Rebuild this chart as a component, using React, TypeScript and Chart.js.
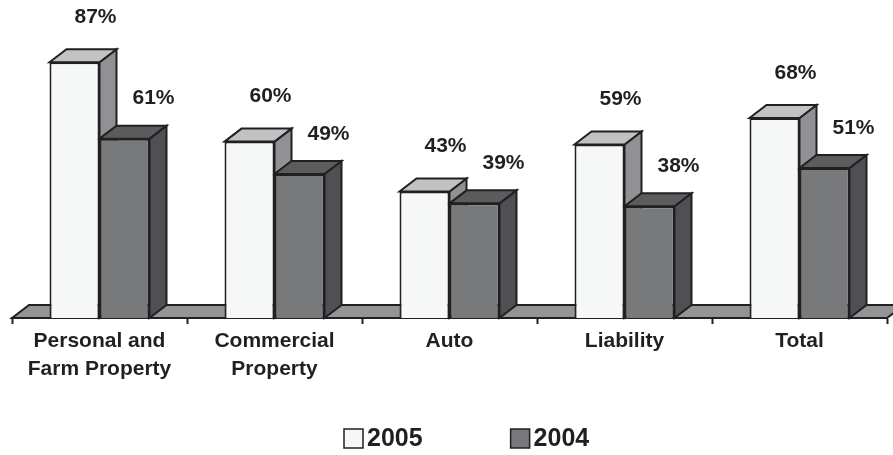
import React, { useEffect, useRef } from "react";
import { Chart, registerables } from "chart.js";

Chart.register(...registerables);

const categories: string[][] = [
  ["Personal and", "Farm Property"],
  ["Commercial", "Property"],
  ["Auto"],
  ["Liability"],
  ["Total"],
];
const seriesNames = ["2005", "2004"];
const values2005 = [87, 60, 43, 59, 68];
const values2004 = [61, 49, 39, 38, 51];

const OUTLINE = "#231f20";
const TEXT = "#231f20";
const FONT = '"Liberation Sans", Arial, Helvetica, sans-serif';

// front / top / side shades per series
const faces = [
  { front: "#f6f7f7", top: "#c1c2c4", side: "#8f9194" },
  { front: "#78797b", top: "#5b5c5e", side: "#4f5053" },
];
const FLOOR = "#939496";
const DEPTH_X = 17;
const DEPTH_Y = 13;

const poly = (ctx: CanvasRenderingContext2D, pts: number[][], fill: string) => {
  ctx.beginPath();
  ctx.moveTo(pts[0][0], pts[0][1]);
  for (let i = 1; i < pts.length; i++) ctx.lineTo(pts[i][0], pts[i][1]);
  ctx.closePath();
  ctx.fillStyle = fill;
  ctx.fill();
  ctx.stroke();
};

// Floor, bar tops and bar sides; the library draws the front faces afterwards.
const depthPlugin = {
  id: "depth3d",
  beforeDatasetsDraw(chart: any) {
    const ctx: CanvasRenderingContext2D = chart.ctx;
    const { left, right, bottom } = chart.chartArea;
    ctx.save();
    ctx.strokeStyle = OUTLINE;
    ctx.lineWidth = 2;
    ctx.lineJoin = "miter";
    poly(
      ctx,
      [
        [left, bottom],
        [left + DEPTH_X, bottom - DEPTH_Y],
        [right + DEPTH_X, bottom - DEPTH_Y],
        [right, bottom],
      ],
      FLOOR
    );
    chart.data.datasets.forEach((ds: any, di: number) => {
      const meta = chart.getDatasetMeta(di);
      const f = faces[di];
      meta.data.forEach((bar: any) => {
        const { x, y, base, width } = bar.getProps(["x", "y", "base", "width"], true);
        const l = x - width / 2;
        const r = x + width / 2;
        // side face
        poly(
          ctx,
          [
            [r, base],
            [r + DEPTH_X, base - DEPTH_Y],
            [r + DEPTH_X, y - DEPTH_Y],
            [r, y],
          ],
          f.side
        );
        // top face
        poly(
          ctx,
          [
            [l, y],
            [l + DEPTH_X, y - DEPTH_Y],
            [r + DEPTH_X, y - DEPTH_Y],
            [r, y],
          ],
          f.top
        );
      });
    });
    ctx.restore();
  },
  afterDatasetsDraw(chart: any) {
    const ctx: CanvasRenderingContext2D = chart.ctx;
    ctx.save();
    ctx.fillStyle = TEXT;
    ctx.font = `bold 21px ${FONT}`;
    ctx.textAlign = "center";
    ctx.textBaseline = "middle";
    const offsets = [
      { dx: 21, dy: -45 },
      { dx: 29, dy: -40 },
    ];
    chart.data.datasets.forEach((ds: any, di: number) => {
      const meta = chart.getDatasetMeta(di);
      meta.data.forEach((bar: any, i: number) => {
        const { x, y } = bar.getProps(["x", "y"], true);
        ctx.fillText(`${ds.data[i]}%`, x + offsets[di].dx, y + offsets[di].dy);
      });
    });
    ctx.restore();
  },
  afterDraw(chart: any) {
    // legend row
    const ctx: CanvasRenderingContext2D = chart.ctx;
    ctx.save();
    ctx.font = `bold 25px ${FONT}`;
    ctx.textBaseline = "middle";
    ctx.textAlign = "left";
    const cy = 438.5;
    const box = 19;
    let x = 344;
    chart.data.datasets.forEach((ds: any, di: number) => {
      ctx.fillStyle = faces[di].front;
      ctx.strokeStyle = OUTLINE;
      ctx.lineWidth = 1.5;
      ctx.fillRect(x, cy - box / 2, box, box);
      ctx.strokeRect(x, cy - box / 2, box, box);
      ctx.fillStyle = TEXT;
      ctx.fillText(ds.label, x + box + 4, cy + 1);
      x += box + 4 + ctx.measureText(ds.label).width + 88;
    });
    ctx.restore();
  },
};

export default function App() {
  const ref = useRef<HTMLCanvasElement>(null);

  useEffect(() => {
    document.body.style.margin = "0";
    const chart = new Chart(ref.current!, {
      type: "bar",
      data: {
        labels: categories,
        datasets: [
          {
            label: seriesNames[0],
            data: values2005,
            backgroundColor: faces[0].front,
            borderColor: OUTLINE,
            borderWidth: 2,
          },
          {
            label: seriesNames[1],
            data: values2004,
            backgroundColor: faces[1].front,
            borderColor: OUTLINE,
            borderWidth: 2,
          },
        ],
      },
      options: {
        animation: false,
        responsive: false,
        maintainAspectRatio: false,
        layout: { padding: { left: 12, right: 6, top: 24, bottom: 0 } },
        datasets: {
          bar: { categoryPercentage: 100 / 175, barPercentage: 1 },
        },
        plugins: {
          legend: { display: false },
          tooltip: { enabled: false },
        },
        scales: {
          y: { display: false, min: 0, max: 100 },
          x: {
            afterFit: (scale: any) => {
              scale.height = 137;
            },
            grid: {
              drawOnChartArea: false,
              drawTicks: true,
              tickLength: 6,
              tickWidth: 2,
              tickColor: OUTLINE,
              offset: true,
            },
            border: { display: true, color: OUTLINE, width: 2 },
            ticks: {
              color: TEXT,
              padding: 3,
              maxRotation: 0,
              autoSkip: false,
              font: { family: FONT, size: 21, weight: "bold", lineHeight: 1.35 },
            },
          },
        },
      },
      plugins: [depthPlugin],
    });
    return () => chart.destroy();
  }, []);

  return (
    <div style={{ width: 893, height: 455, background: "#fff" }}>
      <canvas ref={ref} width={893} height={455} />
    </div>
  );
}
